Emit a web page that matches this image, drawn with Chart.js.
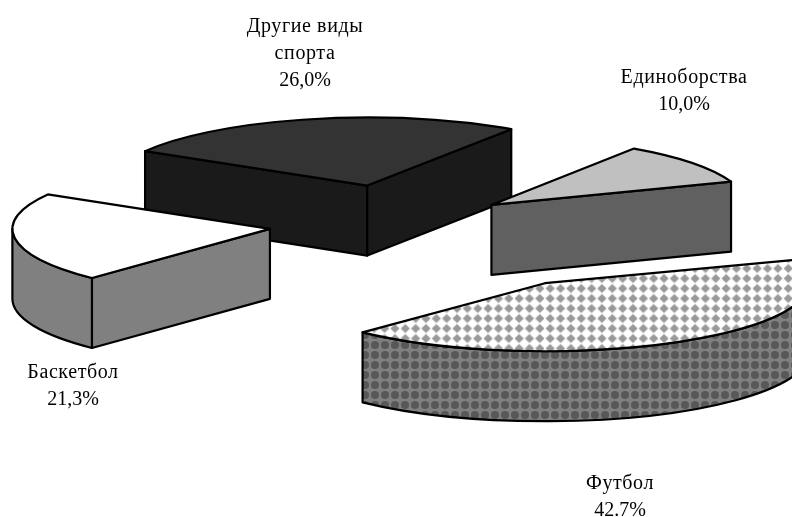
<!DOCTYPE html>
<html>
<head>
<meta charset="utf-8">
<style>html,body{margin:0;padding:0;background:#fff}canvas{display:block}</style>
<script src="https://cdn.jsdelivr.net/npm/chart.js@4"></script>
</head>
<body>
<canvas id="c" width="792" height="517"></canvas>
<script>
const categories=['Футбол','Баскетбол','Другие виды спорта','Единоборства'];
const shares=[42.7,21.3,26.0,10.0];
const labelLines=[['Футбол','42.7%'],['Баскетбол','21,3%'],['Другие виды','спорта','26,0%'],['Единоборства','10,0%']];
// how far each slice is pulled out, in radii
const explode=[1.04,0.515,0.58,0.455];
// near slices look a bit wider in the original's perspective
const rimStretch=[1.035,1.01,1.01,1];
const labelAt=[[620,484],[73,373],[305,27],[684,78]];
const drawOrder=[2,3,1,0];

const SQUASH=68/255,DEPTH=70,LINE=2.2;

function tile(size,paint){
 const t=document.createElement('canvas');t.width=t.height=size;
 paint(t.getContext('2d'));
 return t;
}
function diamond(g,x,y,r,col){g.fillStyle=col;g.beginPath();g.moveTo(x-r,y);g.lineTo(x,y-r);g.lineTo(x+r,y);g.lineTo(x,y+r);g.closePath();g.fill();}
const ctx0=document.getElementById('c').getContext('2d');
const topPattern=ctx0.createPattern(tile(10,g=>{g.fillStyle='#fff';g.fillRect(0,0,10,10);diamond(g,5,5,4.5,'#999');}),'repeat');
topPattern.setTransform(new DOMMatrix().scale(1,1/SQUASH));
const sidePattern=ctx0.createPattern(tile(10,g=>{g.fillStyle='#808080';g.fillRect(0,0,10,10);g.fillStyle='#585858';g.beginPath();g.arc(5,5,4,0,Math.PI*2);g.fill();}),'repeat');

const topColors=[topPattern,'#ffffff','#333333','#c0c0c0'];
const sideColors=[sidePattern,'#808080','#1a1a1a','#606060'];

function paintFace(ctx,path,fill){
 ctx.beginPath();path();ctx.closePath();
 ctx.fillStyle=fill;ctx.fill();
 ctx.strokeStyle='#000';ctx.lineWidth=LINE;ctx.lineJoin='round';ctx.stroke();
}
function drawSlice(ctx,arc,i){
 const a0=arc.startAngle,a1=arc.endAngle,base=arc.outerRadius,R=base*rimStretch[i],r2=base*SQUASH;
 const mid=(a0+a1)/2;
 const x=arc.x+Math.cos(mid)*explode[i]*base,y=arc.y+Math.sin(mid)*explode[i]*r2;
 const px=a=>x+Math.cos(a)*R,py=a=>y+Math.sin(a)*r2;
 const radial=a=>()=>{ctx.moveTo(x,y);ctx.lineTo(px(a),py(a));ctx.lineTo(px(a),py(a)+DEPTH);ctx.lineTo(x,y+DEPTH);};
 if(Math.cos(a0)<0) paintFace(ctx,radial(a0),sideColors[i]);
 if(Math.cos(a1)>0) paintFace(ctx,radial(a1),sideColors[i]);
 // visible part of the rim is where the angle points to the viewer
 let s=-1,e=-1;
 for(const k of [0,2,-2,4]){
  const lo=Math.max(a0,k*Math.PI),hi=Math.min(a1,(k+1)*Math.PI);
  if(hi>lo){s=lo;e=hi;break;}
 }
 if(e>=0){
  paintFace(ctx,()=>{ctx.ellipse(x,y,R,r2,0,s,e);ctx.ellipse(x,y+DEPTH,R,r2,0,e,s,true);},sideColors[i]);
 }
 ctx.save();
 ctx.translate(x,y);ctx.scale(rimStretch[i],SQUASH);ctx.translate(-arc.x,-arc.y);
 arc.draw(ctx);
 ctx.restore();
 ctx.beginPath();ctx.moveTo(x,y);ctx.ellipse(x,y,R,r2,0,a0,a1);ctx.closePath();
 ctx.strokeStyle='#000';ctx.lineWidth=LINE;ctx.lineJoin='round';ctx.stroke();
}
const pie3d={
 id:'pie3d',
 beforeDatasetsDraw(chart){
  const ctx=chart.ctx,arcs=chart.getDatasetMeta(0).data;
  drawOrder.forEach(i=>drawSlice(ctx,arcs[i],i));
  return false;
 },
 afterDraw(chart){
  const ctx=chart.ctx;
  ctx.save();
  ctx.fillStyle='#000';ctx.font='20px "Liberation Serif"';ctx.textAlign='center';ctx.textBaseline='middle';
  labelLines.forEach((lines,i)=>lines.forEach((t,j)=>{
   // the Cyrillic words run a little wider than the digits in the original
   ctx.letterSpacing=/\d/.test(t)?'0px':'0.6px';
   ctx.fillText(t,labelAt[i][0],labelAt[i][1]+j*27);
  }));
  ctx.restore();
 }
};
new Chart(document.getElementById('c'),{
 type:'pie',
 data:{labels:categories,datasets:[{data:shares,backgroundColor:topColors,borderWidth:0}]},
 options:{
  responsive:false,animation:false,rotation:70,radius:255,
  layout:{padding:{left:8,bottom:69}},
  plugins:{legend:{display:false},tooltip:{enabled:false}}
 },
 plugins:[pie3d]
});
</script>
</body>
</html>
